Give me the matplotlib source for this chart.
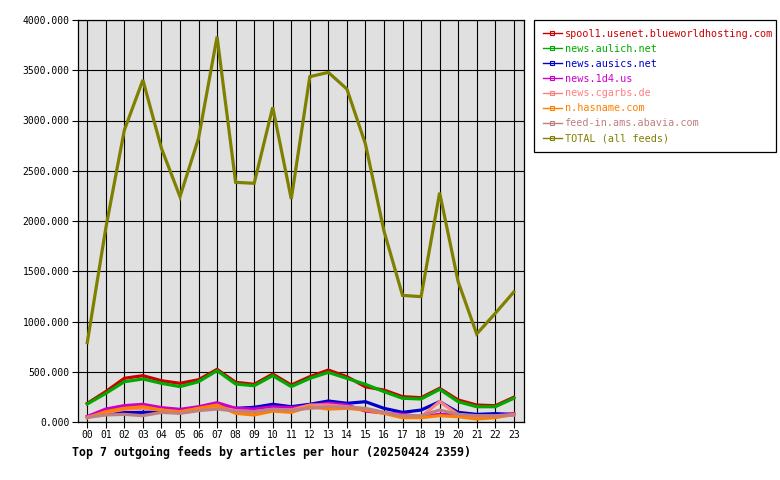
import numpy as np
import matplotlib.pyplot as plt
from matplotlib.lines import Line2D
from matplotlib.ticker import FormatStrFormatter, MultipleLocator

hours = list(range(24))
hour_labels = ["%02d" % h for h in hours]

feeds = [
    "spool1.usenet.blueworldhosting.com",
    "news.aulich.net",
    "news.ausics.net",
    "news.1d4.us",
    "news.cgarbs.de",
    "n.hasname.com",
    "feed-in.ams.abavia.com",
    "TOTAL (all feeds)",
]
colors = ["#cc0000", "#00aa00", "#0000cc", "#cc00cc",
          "#ff8080", "#ff8000", "#c08080", "#808000"]

spool1 = [185, 303, 435, 461, 411, 385, 421, 524, 395, 375, 477, 368,
          451, 517, 451, 350, 318, 252, 242, 335, 219, 169, 162, 246]
aulich = [179, 285, 401, 428, 385, 352, 401, 511, 378, 361, 461, 352,
          434, 494, 434, 375, 302, 236, 229, 325, 202, 152, 152, 236]
ausics = [50, 86, 93, 96, 103, 109, 125, 143, 136, 146, 176, 152,
          176, 209, 186, 202, 136, 96, 119, 202, 96, 76, 83, 76]
d4us = [55, 129, 163, 176, 143, 126, 152, 192, 136, 129, 152, 143,
        160, 186, 169, 109, 90, 76, 53, 76, 70, 50, 60, 83]
cgarbs = [47, 93, 126, 136, 119, 90, 119, 152, 113, 103, 126, 119,
          169, 169, 152, 130, 93, 60, 53, 202, 75, 47, 53, 70]
hasname = [40, 103, 136, 152, 119, 103, 136, 169, 86, 70, 109, 96,
           152, 129, 136, 119, 86, 43, 43, 63, 53, 30, 43, 76]
abavia = [46, 70, 76, 63, 96, 86, 113, 129, 109, 103, 126, 120,
          136, 152, 146, 136, 96, 63, 63, 119, 76, 63, 63, 70]
total = [790, 1930, 2905, 3403, 2723, 2242, 2823, 3834, 2385, 2375, 3131, 2219,
         3436, 3479, 3313, 2766, 1900, 1260, 1247, 2282, 1396, 876, 1081, 1294]

series = [spool1, aulich, ausics, d4us, cgarbs, hasname, abavia, total]

mono = "DejaVu Sans Mono"

fig = plt.figure(figsize=(7.8, 4.8), dpi=100)
ax = fig.add_axes([78 / 780, 58 / 480, 446 / 780, 402 / 480])
ax.set_facecolor("#e0e0e0")

for vals, col in zip(series, colors):
    ax.plot(hours, vals, color=col, lw=2.3, solid_joinstyle="miter", zorder=3)

ax.set_xlim(-0.5, 23.55)
ax.set_ylim(0, 4000)
ax.set_xticks(hours)
ax.set_xticklabels(hour_labels)
ax.yaxis.set_major_locator(MultipleLocator(500))
ax.yaxis.set_major_formatter(FormatStrFormatter("%.3f"))
ax.grid(True, color="black", lw=0.8, zorder=1)
ax.set_axisbelow(True)
ax.tick_params(axis="both", direction="out", length=4, width=0.8, color="black",
               labelsize=7, pad=2)
for lab in ax.get_xticklabels() + ax.get_yticklabels():
    lab.set_family(mono)
for sp in ax.spines.values():
    sp.set_color("black")
    sp.set_linewidth(0.9)

fig.text(72 / 780, 1 - 452 / 480, "Top 7 outgoing feeds by articles per hour (20250424 2359)",
         family=mono, fontsize=8.4, fontweight="bold", va="center", ha="left")

handles = [Line2D([], [], color=c, lw=1, marker="s", markersize=2.5,
                  markerfacecolor="none", markeredgewidth=0.8) for c in colors]
leg = fig.legend(handles, feeds, loc="upper left",
                 bbox_to_anchor=(534 / 780, 1 - 20 / 480, 242 / 780, 0),
                 mode="expand", fancybox=False, framealpha=1, edgecolor="black",
                 prop={"family": mono, "size": 7.3}, labelcolor=colors,
                 handlelength=1.9, handletextpad=0.3, labelspacing=0.49,
                 borderpad=0.85, borderaxespad=0)
leg.get_frame().set_linewidth(0.9)

fig.savefig("out.png", dpi=100)
